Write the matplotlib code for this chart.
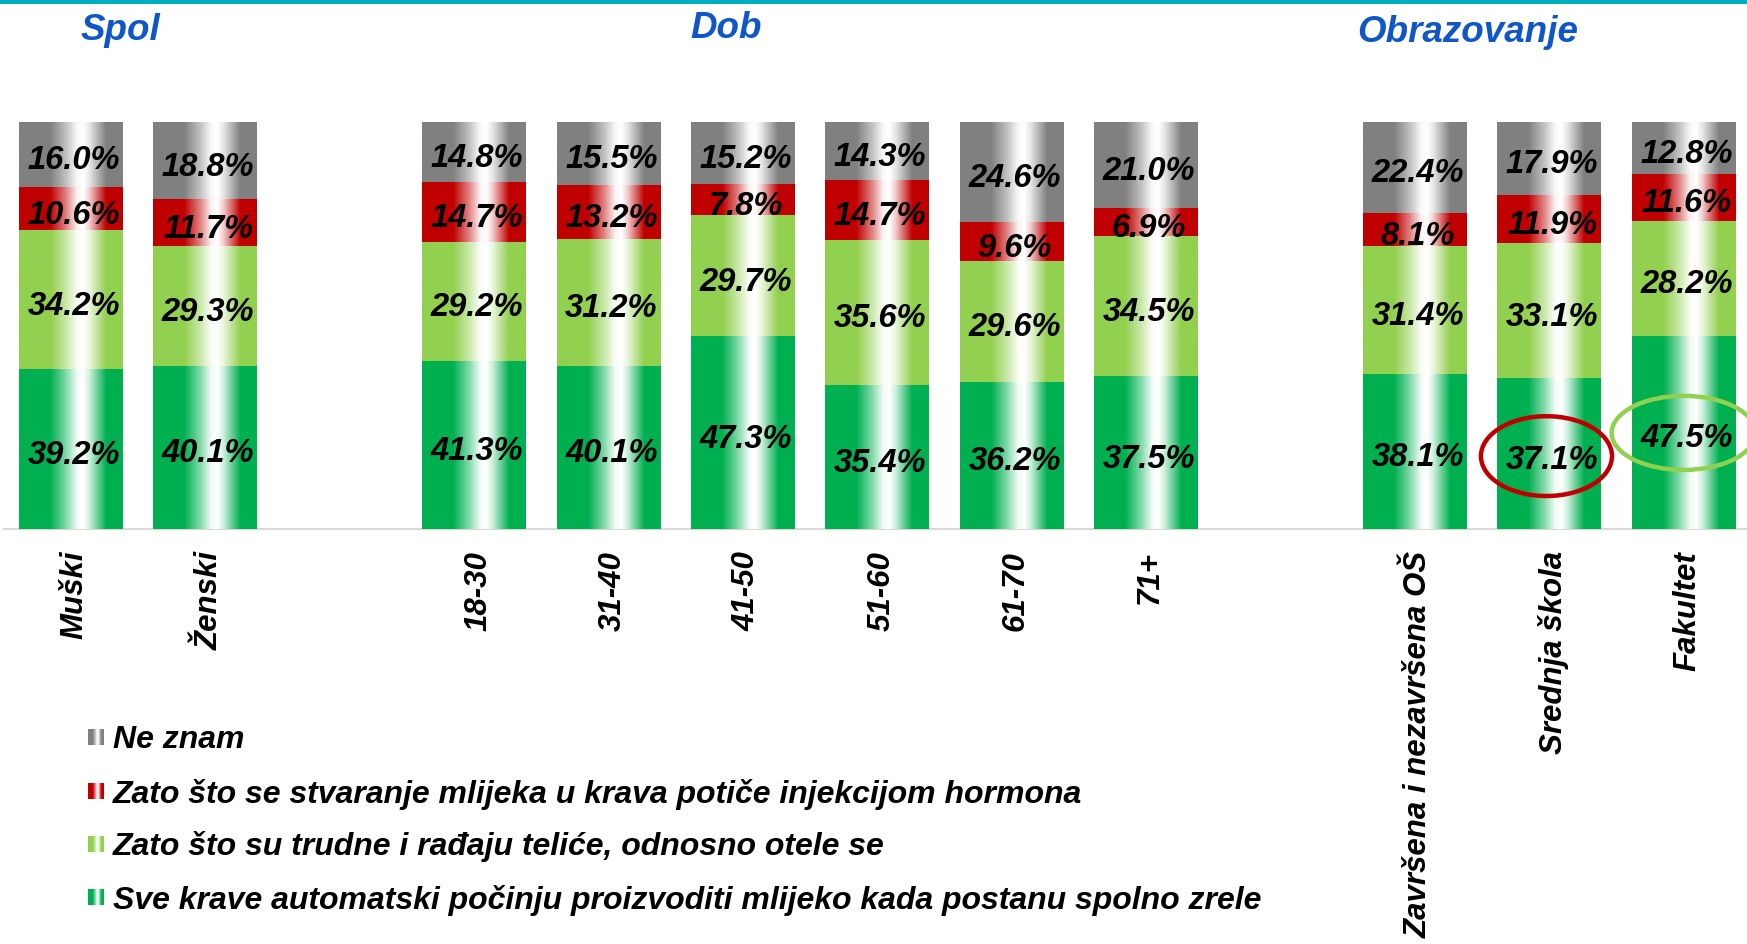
import numpy as np
import matplotlib
matplotlib.use('Agg')
import matplotlib.pyplot as plt
import matplotlib.colors as mcolors
from matplotlib.patches import Ellipse, Rectangle
from matplotlib.transforms import offset_copy, ScaledTranslation

# ---------------- data ----------------
categories = ['Muški', 'Ženski', '18-30', '31-40', '41-50', '51-60', '61-70', '71+',
              'Završena i nezavršena OŠ', 'Srednja škola', 'Fakultet']
positions = [0, 1, 3, 4, 5, 6, 7, 8, 10, 11, 12]
sve_krave = [39.2, 40.1, 41.3, 40.1, 47.3, 35.4, 36.2, 37.5, 38.1, 37.1, 47.5]
trudne = [34.2, 29.3, 29.2, 31.2, 29.7, 35.6, 29.6, 34.5, 31.4, 33.1, 28.2]
hormoni = [10.6, 11.7, 14.7, 13.2, 7.8, 14.7, 9.6, 6.9, 8.1, 11.9, 11.6]
ne_znam = [16.0, 18.8, 14.8, 15.5, 15.2, 14.3, 24.6, 21.0, 22.4, 17.9, 12.8]
series_names = ['Sve krave automatski počinju proizvoditi mlijeko kada postanu spolno zrele',
                'Zato što su trudne i rađaju teliće, odnosno otele se',
                'Zato što se stvaranje mlijeka u krava potiče injekcijom hormona',
                'Ne znam']
series_colors = ['#00B050', '#92D050', '#C00000', '#808080']
group_titles = ['Spol', 'Dob', 'Obrazovanje']

FONT = 'Liberation Sans'
W, H = 1747, 945
fig = plt.figure(figsize=(W / 100, H / 100), dpi=100)
fig.patch.set_facecolor('white')


def grad_img(color, n=256):
    c = np.array(mcolors.to_rgb(color))
    xs = np.linspace(0, 1, n)
    sx = [0, 0.30, 0.45, 0.56, 0.62, 0.68, 0.78, 0.84, 1]
    sw = [0, 0, 0.5, 0.95, 1.0, 0.8, 0.3, 0, 0]
    w = np.interp(xs, sx, sw)
    img = c[None, :] * (1 - w[:, None]) + w[:, None]
    return img[None, :, :]


# main axes
ax = fig.add_axes([4 / W, (H - 530) / H, 1 - 4 / W, (530 - 122.6) / H])
bw = 0.77
series = [sve_krave, trudne, hormoni, ne_znam]
label_tr = offset_copy(ax.transData, fig=fig, x=2.2, y=-4, units='points')
bottom = np.zeros(len(categories))
for vals, col in zip(series, series_colors):
    vals = np.array(vals)
    bars = ax.bar(positions, vals, bw, bottom=bottom, color=col, edgecolor='none', zorder=2)
    img = grad_img(col)
    for b, v, bt in zip(bars, vals, bottom):
        x0 = b.get_x()
        ax.imshow(img, extent=(x0, x0 + b.get_width(), bt, bt + v), aspect='auto',
                  interpolation='bilinear', zorder=3)
        ax.text(b.get_x() + b.get_width() / 2, bt + v / 2, f'{v:.1f}%', ha='center', va='center',
                fontsize=23.5, fontweight='bold', fontstyle='italic', family=FONT, color='black',
                zorder=5, transform=label_tr)
    bottom = bottom + vals

ax.set_xlim(-0.496, 12.472)
ax.set_ylim(0, 100.05)
ax.set_aspect('auto')
for s in ['top', 'right', 'left']:
    ax.spines[s].set_visible(False)
ax.spines['bottom'].set_color('#D9D9D9')
ax.spines['bottom'].set_linewidth(1.5)
ax.set_yticks([])
ax.set_xticks(positions)
ax.set_xticklabels(categories, rotation=90, fontsize=22.5, fontweight='bold', fontstyle='italic',
                   family=FONT, va='top', ha='center')
ax.tick_params(axis='x', length=0, pad=15)
shift = ScaledTranslation(3 / 72, 0, fig.dpi_scale_trans)
for lbl in ax.get_xticklabels():
    lbl.set_transform(lbl.get_transform() + shift)

# highlight ellipses
ax.add_patch(Ellipse((10.98, 17.9), 0.975, 19.6, fill=False, edgecolor='#C00000', lw=3.2, zorder=6))
ax.add_patch(Ellipse((12.0, 23.6), 1.07, 18.2, fill=False, edgecolor='#92D050', lw=3.2, zorder=6,
                     clip_on=False))

# overlay for titles / legend
ov = fig.add_axes([0, 0, 1, 1], zorder=-1)
ov.set_xlim(0, W)
ov.set_ylim(H, 0)
ov.axis('off')
ov.add_patch(Rectangle((0, 0), W, 5, color='#00AEC0', lw=0))

for t, (tx, ty) in zip(group_titles, [(120, 30), (726, 28), (1468, 33)]):
    ov.text(tx, ty, t, ha='center', va='center', fontsize=26.5, fontweight='bold', fontstyle='italic',
            family=FONT, color='#0F57C8')

leg_y = [898, 844.5, 792, 737.5]
for name, col, yy in zip(series_names, series_colors, leg_y):
    ov.imshow(grad_img(col), extent=(88, 104, yy + 8, yy - 8), aspect='auto', interpolation='bilinear')
    ov.text(113, yy + 2, name, ha='left', va='center', fontsize=23, fontweight='bold', fontstyle='italic',
            family=FONT, color='black')
ov.set_xlim(0, W)
ov.set_ylim(H, 0)
ov.set_aspect('auto')

fig.savefig('out.png', dpi=100, facecolor='white')
